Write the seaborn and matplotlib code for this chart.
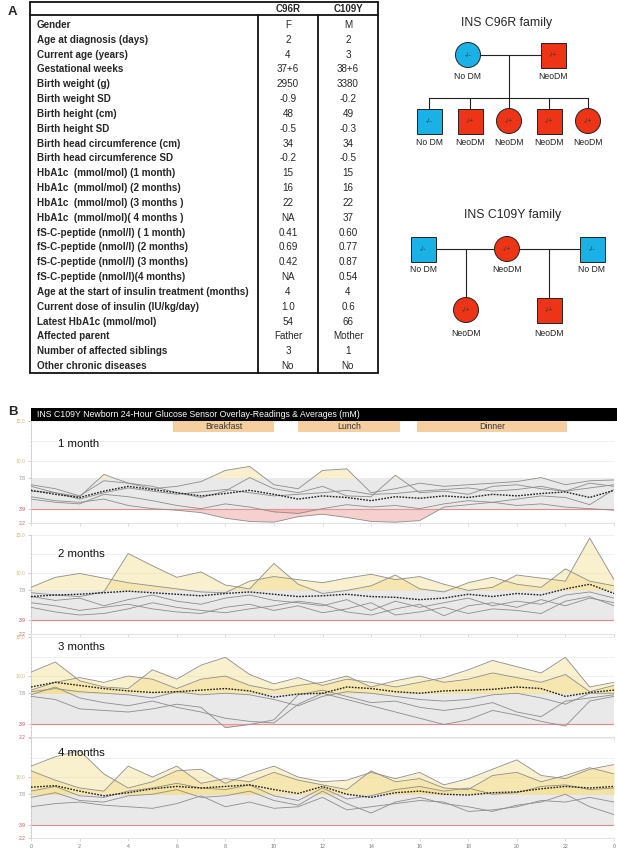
import numpy as np
import pandas as pd
import matplotlib
matplotlib.use("Agg")
import matplotlib.pyplot as plt
import seaborn as sns
from matplotlib.patches import Rectangle, Circle
from matplotlib.ticker import MultipleLocator

sns.set_theme(style="white")
plt.rcParams["font.family"] = ["Liberation Sans", "DejaVu Sans"]

# ---------------- data: table ----------------
row_labels = [
    "Gender", "Age at diagnosis (days)", "Current age (years)", "Gestational weeks",
    "Birth weight (g)", "Birth weight SD", "Birth height (cm)", "Birth height SD",
    "Birth head circumference (cm)", "Birth head circumference SD",
    "HbA1c  (mmol/mol) (1 month)", "HbA1c  (mmol/mol) (2 months)",
    "HbA1c  (mmol/mol) (3 months )", "HbA1c  (mmol/mol)( 4 months )",
    "fS-C-peptide (nmol/l) ( 1 month)", "fS-C-peptide (nmol/l) (2 months)",
    "fS-C-peptide (nmol/l) (3 months)", "fS-C-peptide (nmol/l)(4 months)",
    "Age at the start of insulin treatment (months)", "Current dose of insulin (IU/kg/day)",
    "Latest HbA1c (mmol/mol)", "Affected parent", "Number of affected siblings",
    "Other chronic diseases",
]
col_headers = ["C96R", "C109Y"]
c96r_values = ["F", "2", "4", "37+6", "2950", "-0.9", "48", "-0.5", "34", "-0.2",
               "15", "16", "22", "NA", "0.41", "0.69", "0.42", "NA", "4", "1.0",
               "54", "Father", "3", "No"]
c109y_values = ["M", "2", "3", "38+6", "3380", "-0.2", "49", "-0.3", "34", "-0.5",
                "15", "16", "22", "37", "0.60", "0.77", "0.87", "0.54", "4", "0.6",
                "66", "Mother", "1", "No"]

# ---------------- data: glucose (mM), hourly 0..24 ----------------
hours = list(range(25))
month_labels = ["1 month", "2 months", "3 months", "4 months"]

m1_traces = [
    [6.8, 6.0, 5.5, 8.3, 7.2, 6.5, 6.8, 7.4, 8.8, 9.3, 7.0, 6.5, 8.8, 9.0, 6.0, 6.5, 7.2, 6.8, 7.0, 7.2, 7.4, 7.9, 7.0, 7.5, 7.6],
    [5.5, 5.0, 4.8, 5.2, 4.4, 4.0, 3.8, 3.5, 2.8, 2.4, 2.3, 3.0, 3.3, 2.9, 2.4, 2.3, 2.5, 4.2, 4.5, 4.8, 4.4, 4.6, 4.2, 4.0, 3.8],
    [7.0, 6.5, 5.6, 7.5, 7.2, 6.8, 6.0, 5.4, 6.2, 7.9, 6.5, 6.0, 6.8, 5.6, 5.5, 8.2, 6.0, 6.2, 5.8, 6.8, 7.0, 6.5, 6.2, 7.2, 6.8],
    [5.2, 4.8, 4.6, 5.8, 5.5, 5.0, 4.4, 4.0, 4.6, 4.2, 3.6, 3.4, 4.0, 4.5, 4.2, 4.4, 4.0, 4.6, 5.0, 4.8, 5.2, 5.6, 5.4, 4.5, 6.4],
    [6.2, 6.0, 5.2, 6.0, 6.6, 6.2, 5.8, 6.1, 6.4, 6.0, 5.6, 5.8, 6.0, 6.3, 5.8, 5.9, 6.2, 6.4, 6.6, 6.2, 6.4, 6.8, 6.2, 6.6, 7.0],
]
m1_avg = [6.3, 5.8, 5.4, 6.2, 6.8, 6.4, 6.0, 5.6, 5.9, 6.3, 5.8, 5.2, 5.6, 5.4, 5.0, 5.5, 5.3, 5.6, 5.4, 5.8, 5.6, 5.9, 6.1, 5.4, 6.3]

m2_traces = [
    [8.2, 9.5, 10.0, 9.4, 8.8, 8.4, 8.0, 7.6, 7.5, 9.0, 9.6, 9.2, 8.8, 9.4, 9.9, 9.2, 9.6, 8.6, 7.8, 8.2, 9.8, 9.4, 9.0, 14.6, 9.2],
    [7.5, 7.2, 7.0, 7.6, 12.6, 11.0, 9.5, 10.2, 8.5, 8.0, 11.3, 8.6, 7.4, 7.8, 8.4, 9.8, 8.0, 7.6, 8.8, 9.5, 8.6, 8.2, 10.6, 9.0, 8.4],
    [7.0, 6.5, 6.8, 5.8, 6.6, 7.2, 6.4, 6.0, 6.8, 7.2, 6.5, 6.2, 5.8, 6.6, 5.2, 6.4, 5.6, 6.2, 6.8, 5.8, 6.4, 6.0, 7.2, 7.6, 6.8],
    [6.2, 5.8, 5.2, 5.6, 6.0, 5.4, 5.0, 4.8, 5.6, 6.0, 5.2, 5.8, 4.9, 5.4, 6.2, 4.6, 5.0, 5.6, 4.8, 5.4, 5.2, 4.8, 6.4, 7.0, 5.8],
    [5.6, 5.0, 4.6, 4.8, 5.4, 6.2, 5.6, 5.2, 4.9, 5.4, 5.8, 6.4, 6.0, 5.0, 4.6, 5.4, 6.0, 4.5, 5.8, 6.2, 5.6, 6.6, 5.8, 6.8, 6.2],
]
m2_avg = [7.0, 7.2, 7.3, 7.5, 7.7, 7.5, 7.3, 7.1, 7.4, 7.6, 7.3, 7.0, 7.1, 7.3, 7.0, 6.9, 6.6, 6.8, 7.3, 7.0, 7.4, 7.2, 8.0, 8.6, 7.4]

m3_traces = [
    [10.5, 11.8, 9.4, 8.6, 8.4, 10.8, 9.6, 11.4, 12.4, 10.2, 9.0, 9.8, 8.8, 9.6, 9.2, 8.6, 9.2, 9.8, 10.8, 12.0, 11.2, 10.4, 12.4, 8.6, 9.2],
    [8.2, 9.2, 9.8, 9.2, 10.0, 9.6, 8.4, 9.6, 10.0, 8.8, 8.2, 8.8, 9.2, 10.0, 8.6, 9.4, 10.0, 9.2, 9.6, 10.4, 9.8, 9.2, 10.2, 8.0, 8.8],
    [7.6, 8.6, 7.2, 6.6, 6.2, 6.8, 6.0, 5.4, 4.6, 4.2, 4.0, 6.4, 7.8, 7.0, 6.2, 5.4, 4.6, 3.8, 4.4, 5.6, 5.0, 4.2, 3.6, 6.8, 7.4],
    [7.4, 7.0, 5.8, 5.6, 5.4, 5.8, 6.4, 6.0, 3.4, 3.8, 4.4, 7.6, 8.2, 7.4, 6.6, 6.8, 6.0, 5.6, 6.0, 6.6, 5.4, 4.8, 6.8, 7.2, 7.6],
    [8.0, 8.4, 8.0, 7.8, 7.6, 7.2, 8.0, 7.6, 7.8, 7.6, 7.0, 6.2, 7.4, 8.0, 7.8, 7.4, 7.0, 6.8, 7.0, 7.6, 7.8, 7.2, 6.4, 7.8, 7.8],
]
m3_avg = [8.6, 9.2, 8.8, 8.4, 8.1, 7.9, 8.0, 8.2, 8.4, 8.1, 7.3, 7.7, 7.8, 8.6, 8.4, 8.0, 7.8, 8.1, 8.2, 8.3, 8.6, 8.4, 7.4, 7.9, 8.2]

m4_traces = [
    [11.4, 12.6, 13.4, 10.4, 8.6, 9.4, 10.8, 11.0, 9.2, 10.4, 11.4, 10.0, 9.4, 9.6, 10.6, 9.8, 10.6, 9.0, 9.8, 11.0, 12.2, 10.2, 9.8, 11.0, 11.6],
    [10.8, 9.6, 8.6, 8.2, 11.4, 10.0, 11.4, 9.2, 9.8, 9.4, 10.6, 9.6, 9.0, 8.4, 10.8, 9.4, 9.8, 8.6, 8.4, 10.2, 10.6, 9.4, 10.2, 11.2, 10.4],
    [7.4, 8.0, 7.0, 6.8, 7.6, 7.8, 8.4, 7.4, 7.6, 8.2, 7.0, 6.4, 8.2, 6.6, 5.4, 6.8, 7.4, 6.6, 6.2, 5.6, 6.4, 6.8, 7.8, 6.2, 5.2],
    [6.2, 6.6, 6.8, 6.4, 6.2, 6.0, 6.6, 7.6, 6.2, 6.8, 6.0, 6.2, 7.4, 5.8, 6.2, 6.6, 7.0, 6.8, 5.6, 5.8, 6.2, 7.0, 6.8, 7.4, 6.8],
    [8.2, 8.8, 7.6, 7.4, 8.2, 8.6, 9.2, 8.6, 8.4, 9.0, 7.6, 7.0, 8.6, 7.2, 7.6, 8.4, 8.8, 8.2, 8.6, 7.8, 8.0, 8.8, 9.0, 8.4, 8.6],
]
m4_avg = [8.7, 8.9, 8.2, 7.6, 8.0, 8.5, 8.8, 8.6, 8.8, 9.0, 8.4, 7.9, 8.8, 7.8, 7.4, 8.0, 8.2, 7.8, 7.7, 8.0, 8.1, 8.5, 8.8, 8.6, 8.8]

meal_names = ["Breakfast", "Lunch", "Dinner"]
meal_start = [5.85, 11.0, 15.9]
meal_end = [10.0, 15.2, 22.05]

y_tick_values = [2.2, 3.9, 7.8, 10.0, 15.0]
x_tick_values = list(range(0, 25, 2))
x_tick_labels = ["0", "2", "4", "6", "8", "10", "12", "14", "16", "18", "20", "22", "0"]

# ---------------- figure ----------------
W, H = 617, 849
fig = plt.figure(figsize=(W / 100, H / 100), dpi=100)


def px_axes(x0, ytop, x1, ybot, **kw):
    return fig.add_axes([x0 / W, 1 - ybot / H, (x1 - x0) / W, (ybot - ytop) / H], **kw)


LOW, HIGH = 3.9, 7.8
tick_colors = {2.2: "#d06060", 3.9: "#d04848", 7.8: "#8a8a8a", 10.0: "#d8b870", 15.0: "#d8b870"}

panel_rows = [(421, 523), (535, 633.5), (637, 737), (738, 838)]
label_y = [12.1, 12.5, 13.7, 13.1]
all_traces = [m1_traces, m2_traces, m3_traces, m4_traces]
all_avgs = [m1_avg, m2_avg, m3_avg, m4_avg]

for i, (label, traces, avg, (top, bot)) in enumerate(zip(month_labels, all_traces, all_avgs, panel_rows)):
    ax = px_axes(31, top, 614, bot)
    ax.set_xlim(0, 24)
    ax.set_ylim(2.2, 15.0)
    ax.axhspan(LOW, HIGH, color="#e9e9e9", lw=0, zorder=0)
    for g in (10.0, 12.5, 15.0):
        ax.axhline(g, color="#eeeeee", lw=0.6, zorder=0)
    ax.axhline(LOW, color="#e58a8a", lw=0.8, zorder=1)
    ax.axhline(2.2, color="#dddddd", lw=0.8, zorder=1)

    x = np.array(hours, dtype=float)
    long = []
    for k, vals in enumerate(traces):
        y = np.array(vals, dtype=float)
        ax.fill_between(x, y, HIGH, where=y > HIGH, interpolate=True,
                        color="#f3dc8a", alpha=0.42, lw=0, zorder=2)
        ax.fill_between(x, y, LOW, where=y < LOW, interpolate=True,
                        color="#f0a8a8", alpha=0.55, lw=0, zorder=2)
        for h, v in zip(hours, vals):
            long.append({"hour": h, "glucose": v, "trace": k})
    df = pd.DataFrame(long)
    sns.lineplot(data=df, x="hour", y="glucose", units="trace", estimator=None,
                 color="#8c8c8c", lw=0.6, ax=ax, legend=False, zorder=3)
    sns.lineplot(x=hours, y=avg, color="#1a1a1a", lw=1.0, linestyle=(0, (1.2, 1.0)),
                 ax=ax, zorder=4)
    ax.set_xlabel("")
    ax.set_ylabel("")

    ax.text(1.1, label_y[i], label, fontsize=8.2, color="#111111", va="center", ha="left", zorder=5)

    ax.set_yticks(y_tick_values)
    shown = [f"{v:.1f}" if not (i == 3 and v == 15.0) else "" for v in y_tick_values]
    ax.set_yticklabels(shown, fontsize=3.6)
    for t, v in zip(ax.get_yticklabels(), y_tick_values):
        t.set_color(tick_colors[v])
    ax.yaxis.set_minor_locator(MultipleLocator(0.5))
    ax.tick_params(axis="y", which="major", length=2, width=0.5, color="#bbbbbb", pad=2, left=True)
    ax.tick_params(axis="y", which="minor", length=1, width=0.4, color="#cccccc", left=True)
    ax.set_xticks(x_tick_values)
    if i == 3:
        ax.set_xticklabels(x_tick_labels, fontsize=3.8, color="#777777")
    else:
        ax.set_xticklabels([])
    ax.tick_params(axis="x", length=2, width=0.5, color="#cccccc", pad=2, bottom=True)
    for s in ("top", "right"):
        ax.spines[s].set_visible(False)
    ax.spines["left"].set_color("#cccccc")
    ax.spines["left"].set_linewidth(0.6)
    ax.spines["bottom"].set_color("#dddddd")
    ax.spines["bottom"].set_linewidth(0.6)

# ---------------- header bar + meals ----------------
hax = px_axes(31, 408, 614, 432)
hax.set_xlim(0, 24)
hax.set_ylim(24, 0)
hax.axis("off")
hax.patch.set_alpha(0)
hax.add_patch(Rectangle((0, 0), 24.15, 13, color="black", clip_on=False, lw=0))
hax.text(0.25, 6.7, "INS C109Y Newborn 24-Hour Glucose Sensor Overlay-Readings & Averages (mM)",
         color="white", fontsize=6.3, va="center", ha="left")
for name, s, e in zip(meal_names, meal_start, meal_end):
    hax.add_patch(Rectangle((s, 13), e - s, 11, color="#f5cf9f", lw=0, clip_on=False))
    hax.text((s + e) / 2, 18.6, name, fontsize=6.3, color="#333333", ha="center", va="center")

# ---------------- canvas for table / pedigrees ----------------
cv = fig.add_axes([0, 0, 1, 1], zorder=10)
cv.set_xlim(0, W)
cv.set_ylim(H, 0)
cv.axis("off")
cv.patch.set_alpha(0)

cv.text(8, 12, "A", fontsize=9.5, fontweight="bold", va="center", ha="left")
cv.text(8, 412, "B", fontsize=9.5, fontweight="bold", va="center", ha="left")

# table
tx0, tx1, ty0, ty1 = 30, 378, 2, 373
hdr_y = 15
div1, div2 = 258, 318
lw_t = 1.3
cv.add_patch(Rectangle((tx0, ty0), tx1 - tx0, ty1 - ty0, fill=False, ec="#111111", lw=lw_t))
cv.plot([tx0, tx1], [hdr_y, hdr_y], color="#111111", lw=lw_t)
cv.plot([div1, div1], [hdr_y, ty1], color="#111111", lw=lw_t)
cv.plot([div2, div2], [hdr_y, ty1], color="#111111", lw=lw_t)
cv.text((div1 + div2) / 2, 9, col_headers[0], fontsize=7.0, fontweight="bold", ha="center", va="center")
cv.text((div2 + tx1) / 2, 9, col_headers[1], fontsize=7.0, fontweight="bold", ha="center", va="center")
row0, step = 25, 14.83
for r, (lab, v1, v2) in enumerate(zip(row_labels, c96r_values, c109y_values)):
    yy = row0 + r * step
    cv.text(37, yy, lab, fontsize=7.1, fontweight="bold", ha="left", va="center")
    cv.text((div1 + div2) / 2, yy, v1, fontsize=7.1, ha="center", va="center")
    cv.text((div2 + tx1) / 2, yy, v2, fontsize=7.1, ha="center", va="center")

# pedigrees
RED, BLUE = "#ee3416", "#1ab2e6"
S = 25


def person(x, y, shape, color, geno, status, lab_dy=21):
    if shape == "sq":
        cv.add_patch(Rectangle((x - S / 2, y - S / 2), S, S, fc=color, ec="#222222", lw=0.7, zorder=3))
    else:
        cv.add_patch(Circle((x, y), S / 2, fc=color, ec="#222222", lw=0.7, zorder=3))
    cv.text(x, y, geno, fontsize=5.0, color="#3a3a3a", ha="center", va="center", zorder=4)
    cv.text(x, y + lab_dy, status, fontsize=6.2, color="#222222", ha="center", va="center", zorder=4)


lk = dict(color="#222222", lw=0.8, zorder=2)
# C96R family
cv.text(507, 23, "INS C96R family", fontsize=8.8, ha="center", va="center")
cv.plot([468, 553], [55, 55], **lk)
cv.plot([509, 509], [55, 98], **lk)
kids_x = [429, 470, 509, 549, 588]
cv.plot([kids_x[0], kids_x[-1]], [98, 98], **lk)
for kx in kids_x:
    cv.plot([kx, kx], [98, 121], **lk)
person(468, 55, "ci", BLUE, "-/-", "No DM")
person(553, 55, "sq", RED, "-/+", "NeoDM")
kid_shapes = ["sq", "sq", "ci", "sq", "ci"]
kid_cols = [BLUE, RED, RED, RED, RED]
kid_geno = ["-/-", "-/+", "-/+", "-/+", "-/+"]
kid_stat = ["No DM", "NeoDM", "NeoDM", "NeoDM", "NeoDM"]
for kx, sh, c, g, st in zip(kids_x, kid_shapes, kid_cols, kid_geno, kid_stat):
    person(kx, 121, sh, c, g, st)

# C109Y family
cv.text(513, 215, "INS C109Y family", fontsize=8.8, ha="center", va="center")
cv.plot([423, 592], [249, 249], **lk)
cv.plot([466, 466], [249, 310], **lk)
cv.plot([549, 549], [249, 310], **lk)
person(423, 249, "sq", BLUE, "-/-", "No DM")
person(507, 249, "ci", RED, "-/+", "NeoDM")
person(592, 249, "sq", BLUE, "-/-", "No DM")
person(466, 310, "ci", RED, "-/+", "NeoDM", lab_dy=23)
person(549, 310, "sq", RED, "-/+", "NeoDM", lab_dy=23)

fig.savefig("out.png", dpi=100)
